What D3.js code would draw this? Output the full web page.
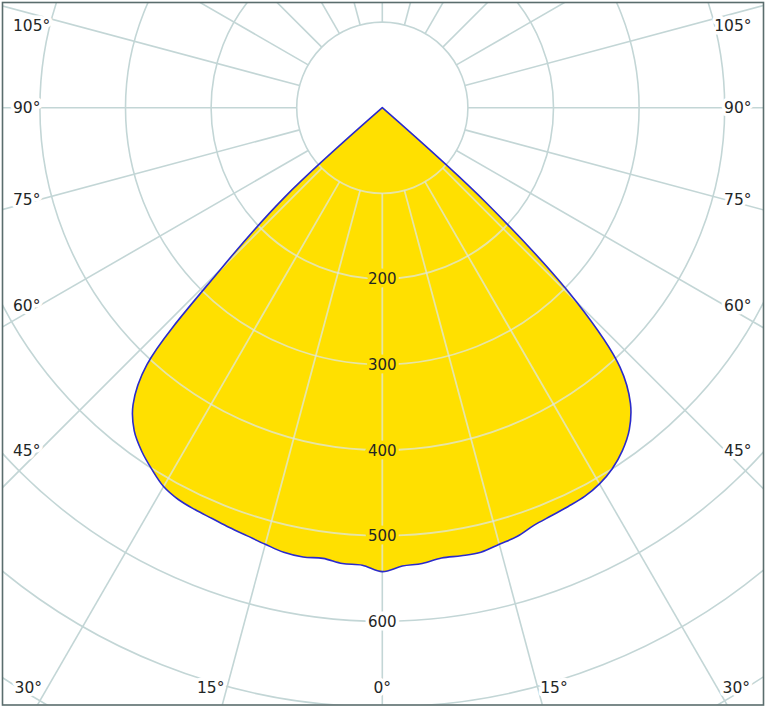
<!DOCTYPE html>
<html><head><meta charset="utf-8">
<script src="https://cdn.jsdelivr.net/npm/d3@7/dist/d3.min.js"></script>
<style>html,body{margin:0;padding:0;background:#fff;overflow:hidden}</style>
</head><body>
<svg id="chart" width="767" height="711"></svg>
<script>
// ---- data (cd/klm) ----
const angles      = [0, 2.5, 5, 7.5, 10, 12.5, 15, 17.5, 20, 22.5, 25, 27.5, 30, 32.5, 35, 37.5, 40, 42.5, 45, 47.5, 50];
const valuesRight = [542, 536, 534.5, 530.5, 531.5, 532, 528, 525, 519, 516, 514, 512, 507.5, 500, 489, 474, 451, 411, 321, 167, 0];
const valuesLeft  = [542, 535, 534.5, 531, 533, 532, 528, 524.5, 522, 519.5, 518, 516, 511, 501, 490, 476, 453, 407, 268, 155, 0];
const ringValues  = [100, 200, 300, 400, 500, 600, 700, 800, 900];
const ringLabels  = [200, 300, 400, 500, 600];
const angleLabels = [0, 15, 30, 45, 60, 75, 90, 105];
const spokeStep   = 15;

// ---- layout ----
const W = 767, H = 711, cx = 382.3, cy = 107.7;
const r = d3.scaleLinear().domain([0, 700]).range([0, 599.2]);
const rad = d => d * Math.PI / 180;
const svg = d3.select('#chart');
const defs = svg.append('defs');
defs.append('clipPath').attr('id', 'frameClip')
  .append('rect').attr('x', 3).attr('y', 3).attr('width', 760).attr('height', 701.5);

// curve points: left half from 50 -> 0, right half 2.5 -> 50 (angle 0 = up, clockwise)
const pts = [];
for (let i = angles.length - 1; i >= 0; i--) pts.push({a: Math.PI + rad(angles[i]), v: valuesLeft[i]});
for (let i = 1; i < angles.length; i++) pts.push({a: Math.PI - rad(angles[i]), v: valuesRight[i]});
const line = d3.lineRadial().angle(d => d.a).radius(d => r(d.v)).curve(d3.curveCatmullRom.alpha(0.5));
const curveD = line(pts) + 'Z';

defs.append('clipPath').attr('id', 'fillClip')
  .append('path').attr('d', curveD).attr('transform', `translate(${cx},${cy})`);

function drawGrid(g, stroke, width, opacity) {
  g.selectAll('circle').data(ringValues).join('circle')
    .attr('cx', cx).attr('cy', cy).attr('r', d => r(d))
    .attr('fill', 'none').attr('stroke', stroke).attr('stroke-width', width).attr('stroke-opacity', opacity);
  const spokes = d3.range(0, 360, spokeStep);
  g.selectAll('line').data(spokes).join('line')
    .attr('x1', d => cx + r(100) * Math.sin(rad(d)))
    .attr('y1', d => cy + r(100) * Math.cos(rad(d)))
    .attr('x2', d => cx + r(1000) * Math.sin(rad(d)))
    .attr('y2', d => cy + r(1000) * Math.cos(rad(d)))
    .attr('stroke', stroke).attr('stroke-width', width).attr('stroke-opacity', opacity);
}

const root = svg.append('g').attr('clip-path', 'url(#frameClip)');
drawGrid(root.append('g'), '#c3d6d6', 1.6, 1);

// filled distribution
root.append('path').attr('d', curveD).attr('transform', `translate(${cx},${cy})`)
  .attr('fill', '#ffe000').attr('stroke', 'none');

// grid over the fill (pale)
drawGrid(root.append('g').attr('clip-path', 'url(#fillClip)'), '#dde6e6', 1.8, 0.72);

// outline
root.append('path').attr('d', curveD).attr('transform', `translate(${cx},${cy})`)
  .attr('fill', 'none').attr('stroke', '#2a2acc').attr('stroke-width', 1.6).attr('stroke-linejoin', 'round');

// ring labels
const maxV = valuesRight[0];
root.selectAll('text.ring').data(ringLabels).join('text').attr('class', 'ring')
  .attr('x', cx).attr('y', d => cy + r(d)).attr('dy', '0.36em')
  .attr('text-anchor', 'middle')
  .attr('font-family', 'DejaVu Sans, Verdana, sans-serif').attr('font-size', 15)
  .attr('fill', '#1f2626')
  .attr('stroke', d => d < maxV ? '#ffe000' : '#ffffff').attr('stroke-width', 7)
  .attr('paint-order', 'stroke').attr('stroke-linejoin', 'round')
  .text(d => d);

// angle labels
const xLeft = 13, xRight = 2 * cx - 13, yBottomRay = 697, yBase = 693;
const labs = [];
angleLabels.forEach(a => {
  const sides = a === 0 ? [0] : [-1, 1];
  sides.forEach(s => {
    const t = Math.tan(rad(a));
    const xb = cx + s * (yBottomRay - cy) * t;
    if (a === 0) {
      labs.push({a, x: cx, y: yBase, anchor: 'middle', base: true});
    } else if (xb >= xLeft && xb <= xRight) {
      labs.push({a, x: xb, y: yBase, anchor: s < 0 ? 'end' : 'start', base: true});
    } else {
      const dx = cx - 40;
      let y = cy + dx / t;
      if (a > 90) y = cy - dx * Math.tan(rad(a - 90));
      if (a === 90) y = cy;
      y = Math.max(25, y);
      labs.push({a, x: s < 0 ? xLeft : xRight, y, anchor: s < 0 ? 'start' : 'end', base: false});
    }
  });
});
root.selectAll('text.ang').data(labs).join('text').attr('class', 'ang')
  .attr('x', d => d.x).attr('y', d => d.y).attr('dy', d => d.base ? 0 : '0.36em')
  .attr('text-anchor', d => d.anchor)
  .attr('font-family', 'DejaVu Sans, Verdana, sans-serif').attr('font-size', 15.5)
  .attr('fill', '#1f2626')
  .attr('stroke', '#ffffff').attr('stroke-width', 7)
  .attr('paint-order', 'stroke').attr('stroke-linejoin', 'round')
  .text(d => d.a + '°');

// frame
svg.append('rect').attr('x', 2.5).attr('y', 2.5).attr('width', 761).attr('height', 702.5)
  .attr('fill', 'none').attr('stroke', '#5a6d6d').attr('stroke-width', 1.6);
</script>
</body></html>
